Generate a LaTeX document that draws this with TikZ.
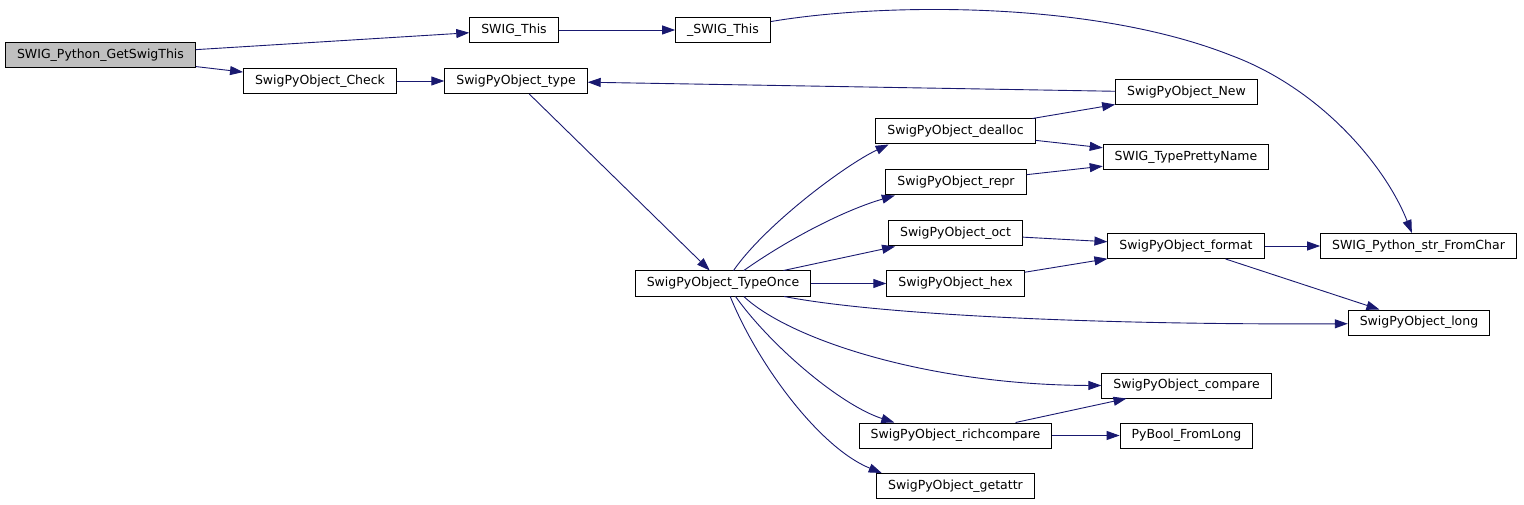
\documentclass[tikz,border=0pt]{standalone}
\usepackage{fontspec}
\setmainfont{DejaVu Sans}
\usetikzlibrary{arrows.meta}
\definecolor{edgeblue}{HTML}{191970}
\definecolor{rootgray}{HTML}{BFBFBF}
\tikzset{
  fn/.style={draw=black, line width=1pt, fill=white, minimum height=25pt,
    inner xsep=11.5pt, inner ysep=0pt, text height=9.5pt, text depth=2.8pt,
    font=\fontsize{12.5}{14}\selectfont},
  root/.style={fn, fill=rootgray},
  call/.style={draw=edgeblue, line width=0.9pt,
    -{Triangle[length=13pt, width=9pt]}},
}
\begin{document}
\begin{tikzpicture}[x=1pt, y=-1pt]
\useasboundingbox (0,0) rectangle (1524,505);
\fill[white] (0,0) rectangle (1524,505);

\node[root] (get) at (100.5,55.5) {SWIG\_Python\_GetSwigThis};
\node[fn] (this) at (514,30) {SWIG\_This};
\node[fn] (uthis) at (723,30) {\_SWIG\_This};
\node[fn] (check) at (320,81) {SwigPyObject\_Check};
\node[fn] (type) at (516,81) {SwigPyObject\_type};
\node[fn] (new) at (1186.5,92.5) {SwigPyObject\_New};
\node[fn] (dealloc) at (955.5,131.5) {SwigPyObject\_dealloc};
\node[fn] (pretty) at (1186,157) {SWIG\_TypePrettyName};
\node[fn] (repr) at (956,182.5) {SwigPyObject\_repr};
\node[fn] (oct) at (955.5,233.5) {SwigPyObject\_oct};
\node[fn] (format) at (1186,246) {SwigPyObject\_format};
\node[fn] (str) at (1418.5,246) {SWIG\_Python\_str\_FromChar};
\node[fn] (once) at (723,283.5) {SwigPyObject\_TypeOnce};
\node[fn] (hex) at (955.5,283.5) {SwigPyObject\_hex};
\node[fn] (long) at (1419,322.5) {SwigPyObject\_long};
\node[fn] (compare) at (1186.5,385.5) {SwigPyObject\_compare};
\node[fn] (rich) at (955.5,435.5) {SwigPyObject\_richcompare};
\node[fn] (bool) at (1186.5,435.5) {PyBool\_FromLong};
\node[fn] (getattr) at (955.5,486) {SwigPyObject\_getattr};

\draw[call] (get) -- (this);
\draw[call] (get) -- (check);
\draw[call] (this) -- (uthis);
\draw[call] (uthis.10) .. controls (880,3) and (1090,0) .. (1230,55)
  .. controls (1320,88) and (1385,165) .. (str.117);
\draw[call] (check) -- (type);
\draw[call] (new) -- (type);
\draw[call] (type) -- (once);
\draw[call] (dealloc) -- (new);
\draw[call] (dealloc) -- (pretty);
\draw[call] (repr) -- (pretty);
\draw[call] (once.51) .. controls (765,225) and (845,165) .. (dealloc.191);
\draw[call] (once.32) .. controls (790,238) and (845,210) .. (repr.192);
\draw[call] (once) -- (oct);
\draw[call] (once) -- (hex);
\draw[call] (once.348) .. controls (880,315) and (1100,325) .. (long.181);
\draw[call] (once.328) .. controls (790,340) and (930,385) .. (compare.west);
\draw[call] (once.314) .. controls (770,345) and (840,405) .. (rich.168);
\draw[call] (once.299) .. controls (758,365) and (820,448) .. (getattr.170);
\draw[call] (oct) -- (format);
\draw[call] (hex) -- (format);
\draw[call] (format) -- (str);
\draw[call] (format) -- (long);
\draw[call] (rich) -- (compare);
\draw[call] (rich) -- (bool);
\end{tikzpicture}
\end{document}
